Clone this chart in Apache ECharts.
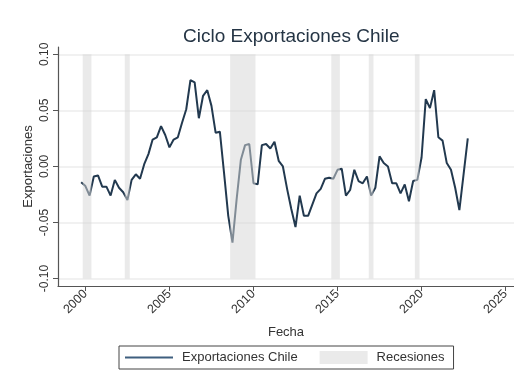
<!DOCTYPE html>
<html>
<head>
<meta charset="utf-8">
<script src="https://cdn.jsdelivr.net/npm/echarts@6/dist/echarts.min.js"></script>
<style>
  html, body { margin: 0; padding: 0; background: #ffffff; }
  #chart { width: 514px; height: 383px; }
</style>
</head>
<body>
<div id="chart"></div>
<script>
// Quarterly export cycle for Chile, first observation 1999 Q4
const firstYear = 1999;
const firstQuarter = 4;
const exportCycle = [
  -0.014,
  -0.0175, -0.026, -0.009, -0.008,
  -0.018, -0.018, -0.026, -0.012,
  -0.019, -0.023, -0.030, -0.012,
  -0.007, -0.011, 0.002, 0.011,
  0.024, 0.026, 0.036, 0.028,
  0.017, 0.024, 0.026, 0.039,
  0.051, 0.077, 0.075, 0.043,
  0.063, 0.068, 0.054, 0.030,
  0.031, -0.006, -0.044, -0.068,
  -0.029, 0.006, 0.019, 0.020,
  -0.015, -0.016, 0.019, 0.020,
  0.016, 0.022, 0.005, 0.000,
  -0.020, -0.038, -0.054, -0.026,
  -0.044, -0.044, -0.034, -0.024,
  -0.020, -0.011, -0.010, -0.011,
  -0.003, -0.002, -0.026, -0.021,
  -0.003, -0.013, -0.015, -0.009,
  -0.026, -0.019, 0.009, 0.003,
  0.000, -0.015, -0.015, -0.024,
  -0.016, -0.031, -0.013, -0.012,
  0.008, 0.060, 0.052, 0.068,
  0.026, 0.023, 0.003, -0.003,
  -0.019, -0.039, -0.007, 0.025
];

// Recession periods (start, end) in fractional years
const recessions = [
  [1999.84, 2000.36],
  [2002.34, 2002.64],
  [2008.61, 2010.12],
  [2014.63, 2015.14],
  [2016.86, 2017.14],
  [2019.60, 2019.88]
];

const yearTicks = [2000, 2005, 2010, 2015, 2020, 2025];
const valueTicks = [-0.10, -0.05, 0.00, 0.05, 0.10];
const bandTop = 0.10;
const bandBottom = -0.10;

const seriesData = exportCycle.map((v, i) => {
  const t = firstYear + (firstQuarter - 1) / 4 + i * 0.25;
  return [t, v];
});

const FONT = '"Liberation Sans", Arial, sans-serif';
const LINE_COLOR = '#22394f';
const BAND_COLOR = 'rgba(214,214,214,0.52)';

const chart = echarts.init(document.getElementById('chart'), null, { renderer: 'canvas' });

chart.setOption({
  backgroundColor: '#ffffff',
  animation: false,
  title: {
    text: 'Ciclo Exportaciones Chile',
    left: 178,
    top: 22,
    textStyle: { fontFamily: FONT, fontSize: 19, fontWeight: 'normal', color: '#253545' }
  },
  legend: {
    left: 119,
    top: 346,
    orient: 'horizontal',
    padding: [5, 9, 5, 6],
    itemGap: 22,
    itemWidth: 48,
    itemHeight: 13,
    borderColor: '#444444',
    borderWidth: 1,
    borderRadius: 0,
    backgroundColor: '#ffffff',
    textStyle: { fontFamily: FONT, fontSize: 13, color: '#333333', padding: [0, 0, 0, 4] },
    data: [
      { name: 'Exportaciones Chile', icon: 'path://M0,0L100,0L100,4L0,4Z', itemStyle: { color: '#3f5f7f' } },
      { name: 'Recesiones', icon: 'rect' }
    ]
  },
  grid: { left: 58, right: 0, top: 47, bottom: 97, containLabel: false },
  xAxis: {
    type: 'value',
    min: 1998.37,
    max: 2025.5,
    name: 'Fecha',
    nameLocation: 'middle',
    nameGap: 40,
    nameMoveOverlap: false,
    nameTextStyle: { fontFamily: FONT, fontSize: 13, color: '#333333' },
    axisLine: { show: true, onZero: false, lineStyle: { color: '#555555', width: 1.2 } },
    axisTick: { show: true, length: 5, customValues: yearTicks, lineStyle: { color: '#555555' } },
    axisLabel: {
      customValues: yearTicks,
      rotate: 45,
      margin: 6,
      fontFamily: FONT,
      fontSize: 12.5,
      color: '#333333',
      formatter: v => String(Math.round(v))
    },
    splitLine: { show: false }
  },
  yAxis: {
    type: 'value',
    min: -0.1066,
    max: 0.1065,
    name: 'Exportaciones',
    nameLocation: 'middle',
    nameGap: 23,
    nameMoveOverlap: false,
    nameTextStyle: { fontFamily: FONT, fontSize: 13, color: '#333333' },
    axisLine: { show: true, onZero: false, lineStyle: { color: '#555555', width: 1.2 } },
    axisTick: { show: true, length: 5, customValues: valueTicks, lineStyle: { color: '#555555' } },
    axisLabel: {
      customValues: valueTicks,
      rotate: 90,
      margin: 7,
      fontFamily: FONT,
      fontSize: 12,
      color: '#333333',
      formatter: v => v.toFixed(2)
    },
    splitLine: { show: true, lineStyle: { color: '#ececec', width: 1.5 } }
  },
  series: [
    {
      name: 'Exportaciones Chile',
      type: 'line',
      data: seriesData,
      showSymbol: false,
      symbol: 'none',
      z: 2,
      lineStyle: { color: LINE_COLOR, width: 2 },
      itemStyle: { color: LINE_COLOR }
    },
    {
      name: 'Recesiones',
      type: 'custom',
      z: 5,
      silent: true,
      data: recessions,
      encode: { x: [0, 1] },
      itemStyle: { color: BAND_COLOR },
      renderItem: function (params, api) {
        const p0 = api.coord([api.value(0), bandTop]);
        const p1 = api.coord([api.value(1), bandBottom]);
        return {
          type: 'rect',
          shape: { x: p0[0], y: p0[1], width: p1[0] - p0[0], height: p1[1] - p0[1] },
          style: { fill: BAND_COLOR }
        };
      }
    }
  ]
});
</script>
</body>
</html>
